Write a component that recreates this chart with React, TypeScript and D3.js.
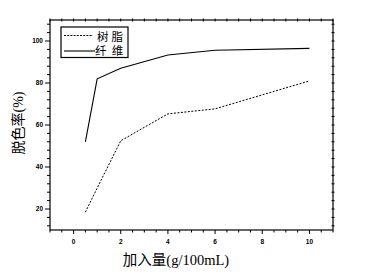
import React from "react";
import * as d3 from "d3";

const doses = [0.5, 1, 2, 4, 6, 10];
const resin = [18.5, 30, 52.5, 65.3, 67.7, 81];
const fiber = [52, 82, 87, 93.3, 95.6, 96.5];
const xTicks = [0, 2, 4, 6, 8, 10];
const yTicks = [20, 40, 60, 80, 100];
const seriesNames = ["树脂", "纤  维"];

const W = 366, H = 275;
const L = 50, R = 333, T = 20, B = 230;

export default function App() {
  const x = d3.scaleLinear().domain([-1, 11]).range([L, R]);
  const y = d3.scaleLinear().domain([10, 110]).range([B, T]);
  const line = d3.line<[number, number]>().x(d => x(d[0])).y(d => y(d[1]));
  const resinPts = doses.map((d, i) => [d, resin[i]] as [number, number]);
  const fiberPts = doses.map((d, i) => [d, fiber[i]] as [number, number]);
  const xMinor = d3.range(-1, 11.01, 0.5);
  const yMinor = d3.range(12, 110.01, 4);
  const tickFont = "Liberation Sans, Arial, sans-serif";
  return (
    <svg width={W} height={H} style={{ position: "absolute", left: 0, top: 0, background: "#fff" }}>
      <rect x={L} y={T} width={R - L} height={B - T} fill="none" stroke="#000" strokeWidth={1.2} />
      {/* bottom ticks */}
      {xMinor.map((v, i) => {
        const major = xTicks.includes(v);
        return <line key={"bx" + i} x1={x(v)} x2={x(v)} y1={B} y2={B + (major ? 4 : 2.5)} stroke="#000" strokeWidth={1} />;
      })}
      {xMinor.map((v, i) => (
        <line key={"tx" + i} x1={x(v)} x2={x(v)} y1={T - 1.5} y2={T + 1.5} stroke="#000" strokeWidth={1} />
      ))}
      {yMinor.map((v, i) => {
        const major = yTicks.includes(v);
        return <line key={"ly" + i} x1={L} x2={L - (major ? 5 : 3)} y1={y(v)} y2={y(v)} stroke="#000" strokeWidth={1} />;
      })}
      {yMinor.map((v, i) => (
        <line key={"ry" + i} x1={R - 1.5} x2={R + 1.5} y1={y(v)} y2={y(v)} stroke="#000" strokeWidth={1} />
      ))}
      {xTicks.map(v => (
        <text key={"xl" + v} x={x(v)} y={243.5} textAnchor="middle" fontFamily={tickFont} fontWeight="bold" fontSize={6.5}>{v}</text>
      ))}
      {yTicks.map(v => (
        <text key={"yl" + v} x={43} y={y(v)} dy="0.35em" textAnchor="end" fontFamily={tickFont} fontWeight="bold" fontSize={6.5}>{v}</text>
      ))}
      <path d={line(resinPts) || ""} fill="none" stroke="#000" strokeWidth={1} strokeDasharray="2,1.5" />
      <path d={line(fiberPts) || ""} fill="none" stroke="#000" strokeWidth={1.1} />
      {/* legend */}
      <rect x={61} y={27} width={67} height={30.5} fill="#fff" stroke="#000" strokeWidth={1.2} />
      <line x1={64} x2={93} y1={35.5} y2={35.5} stroke="#000" strokeWidth={1} strokeDasharray="2,1.2" />
      <line x1={64} x2={95} y1={51} y2={51} stroke="#000" strokeWidth={1.1} />
      <text x={97} y={40.5} fontFamily="Noto Sans CJK SC" fontSize={11.5} letterSpacing={3}>{seriesNames[0]}</text>
      <text x={95} y={55} fontFamily="Noto Sans CJK SC" fontSize={11.5} style={{ whiteSpace: "pre" }}>{seriesNames[1]}</text>
      {/* axis titles */}
      <text x={176} y={265} textAnchor="middle" fontFamily="Liberation Serif, Noto Sans CJK SC" fontSize={14.5}>加入量(g/100mL)</text>
      <text transform="translate(23,123) rotate(-90)" textAnchor="middle" fontFamily="Liberation Serif, Noto Sans CJK SC" fontSize={14}>脱色率(%)</text>
    </svg>
  );
}
